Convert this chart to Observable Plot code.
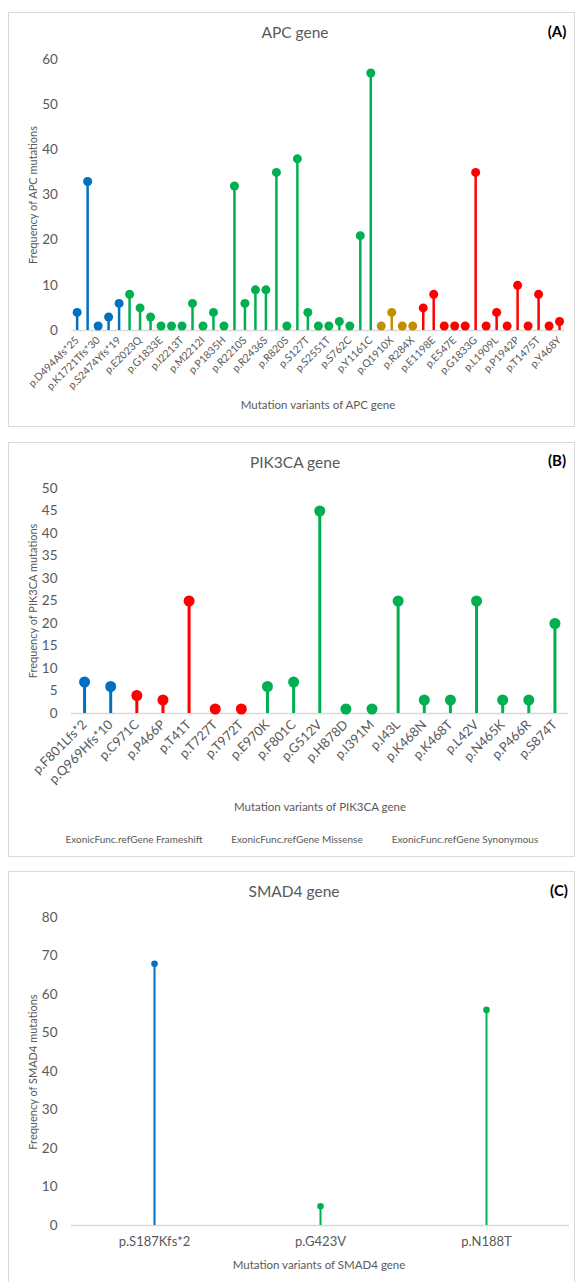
<!DOCTYPE html>
<html>
<head>
<meta charset="utf-8">
<script src="https://cdn.jsdelivr.net/npm/d3@7"></script>
<script src="https://cdn.jsdelivr.net/npm/@observablehq/plot@0.6"></script>
<style>
  body { margin: 0; background: #fff; font-family: Lato, "Open Sans", sans-serif; overflow: hidden; }
  #page { position: relative; width: 577px; height: 1282px; overflow: hidden; }
  .box { position: absolute; border: 1px solid #d9d9d9; box-sizing: border-box; }
  .t { position: absolute; white-space: nowrap; color: #595959; transform: translate(-50%, -50%); line-height: 1; }
  .yt { position: absolute; white-space: nowrap; color: #595959; transform: translate(-50%, -50%) rotate(-90deg); line-height: 1; font-size: 11px; }
  .tag { position: absolute; white-space: nowrap; color: #000; font-weight: bold; font-size: 15px; transform: translate(-50%, -50%); line-height: 1; }
  .chart { position: absolute; left: 0; }
  .chart svg { overflow: visible; }
  .apc [aria-label^="x-axis"] text { font-size: 10.5px; }
  .pik [aria-label^="x-axis"] text { font-size: 13px; }
  .smad [aria-label^="x-axis"] text { font-size: 13px; }
  [aria-label^="y-axis"] text { font-size: 13.5px; }
</style>
</head>
<body>
<div id="page">
  <div class="box" style="left:8px;top:12px;width:567px;height:415px"></div>
  <div class="box" style="left:8px;top:442px;width:567px;height:415px"></div>
  <div class="box" style="left:8px;top:871px;width:567px;height:430px"></div>

  <div class="t" style="left:295px;top:33px;font-size:15.5px">APC gene</div>
  <div class="tag" style="left:557px;top:31px">(A)</div>
  <div class="yt" style="left:32px;top:195px">Frequency of APC mutations</div>
  <div class="t" style="left:318px;top:405px;font-size:11.5px">Mutation variants of APC gene</div>

  <div class="t" style="left:295px;top:463px;font-size:15.5px">PIK3CA gene</div>
  <div class="tag" style="left:557px;top:460px">(B)</div>
  <div class="yt" style="left:32px;top:601px">Frequency of PIK3CA mutations</div>
  <div class="t" style="left:320px;top:807px;font-size:11.5px">Mutation variants of PIK3CA gene</div>
  <div class="t" style="left:134px;top:839px;font-size:10px">ExonicFunc.refGene Frameshift</div>
  <div class="t" style="left:297px;top:839px;font-size:10px">ExonicFunc.refGene Missense</div>
  <div class="t" style="left:465px;top:839px;font-size:10px">ExonicFunc.refGene Synonymous</div>

  <div class="t" style="left:294px;top:892px;font-size:15.5px">SMAD4 gene</div>
  <div class="tag" style="left:559px;top:890px">(C)</div>
  <div class="yt" style="left:32px;top:1072px">Frequency of SMAD4 mutations</div>
  <div class="t" style="left:319px;top:1265px;font-size:11.5px">Mutation variants of SMAD4 gene</div>

  <div id="apc" class="chart apc" style="top:12px"></div>
  <div id="pik" class="chart pik" style="top:442px"></div>
  <div id="smad" class="chart smad" style="top:871px"></div>
</div>
<script>
// ---- mutation types and colours ----
const typeKeys = ["Frameshift", "Missense", "Stopgain", "Synonymous"];
const typeColors = ["#0070C0", "#00B050", "#BF9000", "#FF0000"];

// ---- APC gene (only every other variant is labelled on the axis) ----
const apcVariants = ["p.D494Afs*25", null, "p.K1721Tfs*30", null, "p.S2474Yfs*19", null,
  "p.E2023Q", null, "p.G1833E", null, "p.I2213T", null, "p.M2212I", null, "p.P1835H", null,
  "p.R2210S", null, "p.R2436S", null, "p.R820S", null, "p.S127T", null, "p.S2551T", null,
  "p.S762C", null, "p.Y1161C", null, "p.Q1910X", null, "p.R284X", null, "p.E1198E", null,
  "p.E547E", null, "p.G1833G", null, "p.L1909L", null, "p.P1942P", null, "p.T1475T", null, "p.Y468Y"];
const apcValues = [4, 33, 1, 3, 6,
  8, 5, 3, 1, 1, 1, 6, 1, 4, 1, 32, 6, 9, 9, 35, 1, 38, 4, 1, 1, 2, 1, 21, 57,
  1, 4, 1, 1,
  5, 8, 1, 1, 1, 35, 1, 4, 1, 10, 1, 8, 1, 2];
const apcTypes = ["Frameshift", "Frameshift", "Frameshift", "Frameshift", "Frameshift",
  "Missense", "Missense", "Missense", "Missense", "Missense", "Missense", "Missense", "Missense",
  "Missense", "Missense", "Missense", "Missense", "Missense", "Missense", "Missense", "Missense",
  "Missense", "Missense", "Missense", "Missense", "Missense", "Missense", "Missense", "Missense",
  "Stopgain", "Stopgain", "Stopgain", "Stopgain",
  "Synonymous", "Synonymous", "Synonymous", "Synonymous", "Synonymous", "Synonymous", "Synonymous",
  "Synonymous", "Synonymous", "Synonymous", "Synonymous", "Synonymous", "Synonymous", "Synonymous"];
const apcTicks = [0, 10, 20, 30, 40, 50, 60];

// ---- PIK3CA gene ----
const pikVariants = ["p.F801Lfs*2", "p.Q969Hfs*10", "p.C971C", "p.P466P", "p.T41T", "p.T727T",
  "p.T972T", "p.E970K", "p.F801C", "p.G512V", "p.H878D", "p.I391M", "p.I43L", "p.K468N",
  "p.K468T", "p.L42V", "p.N465K", "p.P466R", "p.S874T"];
const pikValues = [7, 6, 4, 3, 25, 1, 1, 6, 7, 45, 1, 1, 25, 3, 3, 25, 3, 3, 20];
const pikTypes = ["Frameshift", "Frameshift", "Synonymous", "Synonymous", "Synonymous",
  "Synonymous", "Synonymous", "Missense", "Missense", "Missense", "Missense", "Missense",
  "Missense", "Missense", "Missense", "Missense", "Missense", "Missense", "Missense"];
const pikTicks = [0, 5, 10, 15, 20, 25, 30, 35, 40, 45, 50];

// ---- SMAD4 gene ----
const smadVariants = ["p.S187Kfs*2", "p.G423V", "p.N188T"];
const smadValues = [68, 5, 56];
const smadTypes = ["Frameshift", "Missense", "Missense"];
const smadTicks = [0, 10, 20, 30, 40, 50, 60, 70, 80];

function lollipop(cfg) {
  const n = cfg.values.length;
  const data = cfg.values.map((v, i) => ({i, v, t: cfg.types[i]}));
  return Plot.plot({
    width: 577,
    height: cfg.height,
    marginLeft: cfg.marginLeft,
    marginRight: cfg.marginRight,
    marginTop: cfg.marginTop,
    marginBottom: cfg.marginBottom,
    style: {background: "transparent", fontFamily: "Lato, 'Open Sans', sans-serif", fontSize: "13px", color: "#595959", overflow: "visible"},
    x: {type: "band", domain: d3.range(n), padding: 0, round: false, tickSize: 0, tickPadding: cfg.tickPadding,
        tickRotate: cfg.rotate, tickFormat: i => cfg.labels[i] || "", label: null},
    y: {domain: [0, cfg.ticks[cfg.ticks.length - 1]], ticks: cfg.ticks, tickSize: 0, tickPadding: 14, label: null},
    color: {domain: typeKeys, range: typeColors},
    marks: [
      Plot.ruleY([0], {stroke: "#d9d9d9", strokeWidth: 1.5}),
      Plot.ruleX(data, {x: "i", y1: 0, y2: "v", stroke: "t", strokeWidth: cfg.sw}),
      Plot.dot(data, {x: "i", y: "v", fill: "t", r: cfg.r})
    ]
  });
}

document.getElementById("apc").append(lollipop({
  labels: apcVariants, values: apcValues, types: apcTypes, ticks: apcTicks,
  height: 415, marginLeft: 71.4, marginRight: 12.7, marginTop: 47, marginBottom: 97,
  tickPadding: 8, rotate: -45, r: 4.5, sw: 2.5
}));
document.getElementById("pik").append(lollipop({
  labels: pikVariants, values: pikValues, types: pikTypes, ticks: pikTicks,
  height: 414, marginLeft: 71, marginRight: 9.5, marginTop: 46, marginBottom: 143,
  tickPadding: 9, rotate: -45, r: 5.5, sw: 3
}));
document.getElementById("smad").append(lollipop({
  labels: smadVariants, values: smadValues, types: smadTypes, ticks: smadTicks,
  height: 411, marginLeft: 71, marginRight: 8, marginTop: 46, marginBottom: 57,
  tickPadding: 11, rotate: 0, r: 3.3, sw: 2
}));
</script>
</body>
</html>
